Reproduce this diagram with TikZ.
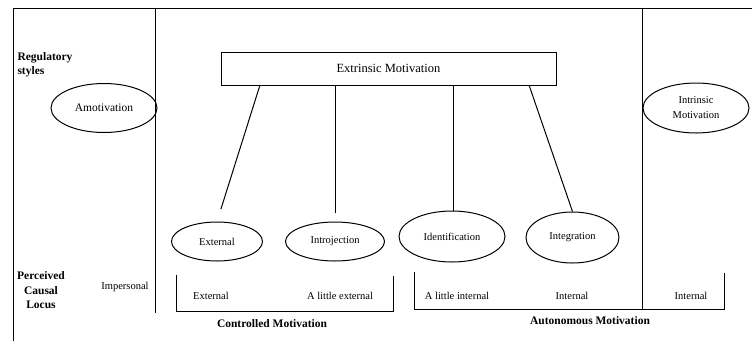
\documentclass[tikz,border=0pt]{standalone}
\usepackage{fontspec}
\setmainfont{Liberation Serif}
\usetikzlibrary{shapes.geometric}

\begin{document}
\begin{tikzpicture}[x=1pt,y=-1pt,line width=1pt,
		oval/.style={draw,ellipse,inner sep=0pt,align=center,font=\fontsize{10.5}{15}\selectfont},
		lbl/.style={inner sep=0pt,font=\fontsize{10.5}{13}\selectfont},
		head/.style={inner sep=0pt,align=center,font=\bfseries\fontsize{11.5}{14.5}\selectfont}]
	\useasboundingbox (0,0) rectangle (752,341);
	\draw (752,8) -- (13,8) -- (13,341);
	\draw (155,8) -- (155,313);
	\draw (642,8) -- (642,310);
	\node[draw,inner sep=0pt,minimum width=335pt,minimum height=33pt,font=\fontsize{12.5}{15}\selectfont] (extr) at (388.5,68.5) {Extrinsic Motivation};
	\node[oval,minimum width=106pt,minimum height=49pt,font=\fontsize{11.5}{15}\selectfont] (amot) at (104,108) {Amotivation};
	\node[oval,minimum width=106pt,minimum height=50pt] (intr) at (696,108) {Intrinsic\\Motivation};
	\node[oval,minimum width=91pt,minimum height=39pt] (extn) at (217,241.5) {External};
	\node[oval,minimum width=99pt,minimum height=39pt] (introj) at (335,241.5) {Introjection};
	\node[oval,minimum width=106pt,minimum height=51pt] (ident) at (452,236.5) {Identification};
	\node[oval,minimum width=93pt,minimum height=51pt] (integ) at (572.5,237.5) {Integration};
	\coordinate (t1) at (260,85);
	\coordinate (t2) at (335,85);
	\coordinate (t3) at (453,85);
	\coordinate (t4) at (529,85);
	\draw[shorten >=13pt] (t1) -- (extn.north);
	\draw[shorten >=9pt] (t2) -- (introj.north);
	\draw (t3) -- (t3 |- ident.north);
	\draw (t4) -- (integ.north);
	\draw (176,275) -- (176,311) -- (393,311) -- (393,276);
	\draw (414,272) -- (414,309) -- (724,309) -- (724,273);
	\node[head,align=left,anchor=west] (reg) at (17,64.5) {Regulatory\\styles};
	\node[head] (pcl) at (41,290.5) {Perceived\\Causal\\Locus};
	\node[lbl] (imp) at (125,287) {Impersonal};
	\node[lbl] (l1) at (211,296) {External};
	\node[lbl] (l2) at (340,296) {A little external};
	\node[lbl] (l3) at (457,296) {A little internal};
	\node[lbl] (l4) at (572,296) {Internal};
	\node[lbl] (l5) at (691,296) {Internal};
	\node[head] (ctrl) at (272,324) {Controlled Motivation};
	\node[head] (auto) at (590,321) {Autonomous Motivation};
\end{tikzpicture}
\end{document}
